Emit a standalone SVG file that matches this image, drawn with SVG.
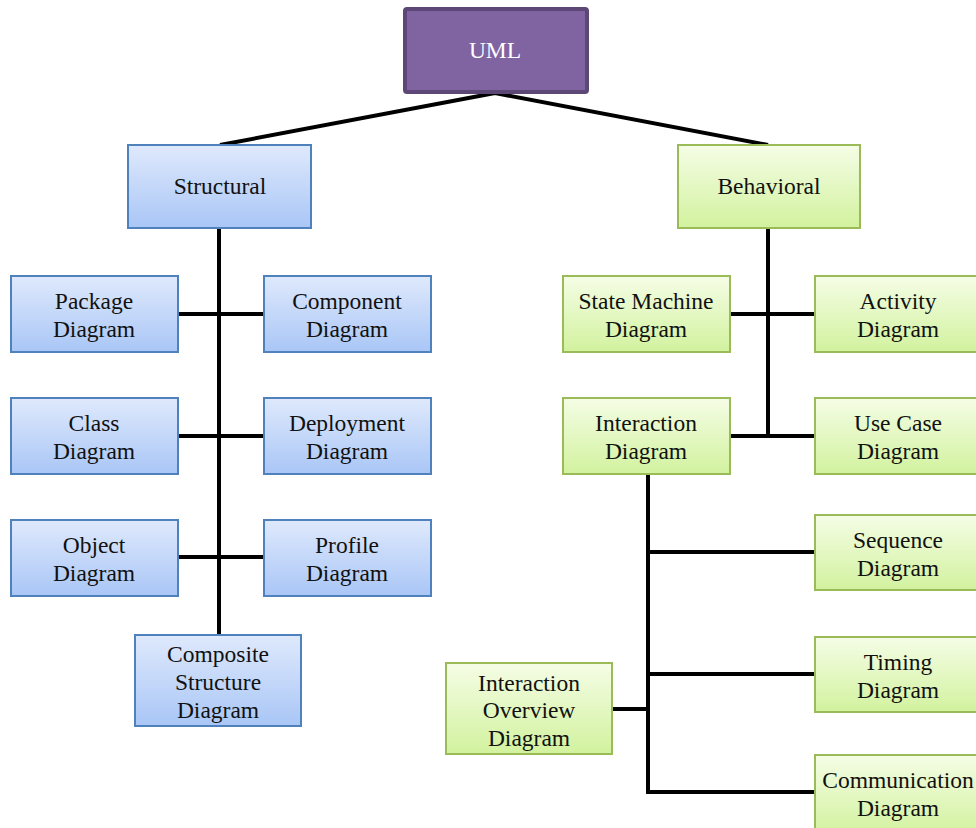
<svg xmlns="http://www.w3.org/2000/svg" width="976" height="828" viewBox="0 0 976 828">
<defs>
<linearGradient id="gb" x1="0" y1="0" x2="0" y2="1"><stop offset="0" stop-color="#dfe9fc"/><stop offset="1" stop-color="#a9c6f6"/></linearGradient>
<linearGradient id="gg" x1="0" y1="0" x2="0" y2="1"><stop offset="0" stop-color="#f5fde6"/><stop offset="1" stop-color="#d2f29e"/></linearGradient>
</defs>
<style>
.b{fill:url(#gb);stroke:#4f81bd;stroke-width:2}
.g{fill:url(#gg);stroke:#9bbb59;stroke-width:2}
.u{fill:#8064a2;stroke:#5c4776;stroke-width:4}
text{font-family:"Liberation Serif","Times New Roman",serif;font-size:23.5px;fill:#111;text-anchor:middle}
.w{fill:#fff}
.c{stroke:#000;stroke-width:4;fill:none}
</style>
<g id="connectors">
<path class="c" d="M495 93L220 145M495 93L768 145"/>
<path class="c" d="M219 228V635M178 314H264M178 436H264M178 557H264"/>
<path class="c" d="M768 228V436M730 314H815M730 436H815"/>
<path class="c" d="M648 474V792H815M648 552H815M648 674H815M612 709H648"/>
</g>
<g id="uml"><rect class="u" x="405" y="9" width="182" height="83" rx="2"/><text class="w" x="495" y="58">UML</text></g>
<g id="structural"><rect class="b" x="128" y="145" width="183" height="83"/><text x="220" y="194">Structural</text></g>
<g id="behavioral"><rect class="g" x="678" y="145" width="182" height="83"/><text x="769" y="194">Behavioral</text></g>
<g id="package"><rect class="b" x="11" y="276" width="167" height="76"/><text x="94" y="309">Package</text><text x="94" y="337">Diagram</text></g>
<g id="component"><rect class="b" x="264" y="276" width="167" height="76"/><text x="347" y="309">Component</text><text x="347" y="337">Diagram</text></g>
<g id="class"><rect class="b" x="11" y="398" width="167" height="76"/><text x="94" y="431">Class</text><text x="94" y="459">Diagram</text></g>
<g id="deployment"><rect class="b" x="264" y="398" width="167" height="76"/><text x="347" y="431">Deployment</text><text x="347" y="459">Diagram</text></g>
<g id="object"><rect class="b" x="11" y="520" width="167" height="76"/><text x="94" y="553">Object</text><text x="94" y="581">Diagram</text></g>
<g id="profile"><rect class="b" x="264" y="520" width="167" height="76"/><text x="347" y="553">Profile</text><text x="347" y="581">Diagram</text></g>
<g id="composite"><rect class="b" x="135" y="635" width="166" height="91"/><text x="218" y="662">Composite</text><text x="218" y="690">Structure</text><text x="218" y="718">Diagram</text></g>
<g id="statemachine"><rect class="g" x="563" y="276" width="167" height="76"/><text x="646" y="309">State Machine</text><text x="646" y="337">Diagram</text></g>
<g id="activity"><rect class="g" x="815" y="276" width="167" height="76"/><text x="898" y="309">Activity</text><text x="898" y="337">Diagram</text></g>
<g id="interaction"><rect class="g" x="563" y="398" width="167" height="76"/><text x="646" y="431">Interaction</text><text x="646" y="459">Diagram</text></g>
<g id="usecase"><rect class="g" x="815" y="398" width="167" height="76"/><text x="898" y="431">Use Case</text><text x="898" y="459">Diagram</text></g>
<g id="sequence"><rect class="g" x="815" y="515" width="167" height="75"/><text x="898" y="548">Sequence</text><text x="898" y="576">Diagram</text></g>
<g id="timing"><rect class="g" x="815" y="637" width="167" height="75"/><text x="898" y="670">Timing</text><text x="898" y="698">Diagram</text></g>
<g id="communication"><rect class="g" x="815" y="755" width="167" height="80"/><text x="898" y="788">Communication</text><text x="898" y="816">Diagram</text></g>
<g id="overview"><rect class="g" x="446" y="663" width="166" height="91"/><text x="529" y="691">Interaction</text><text x="529" y="718">Overview</text><text x="529" y="746">Diagram</text></g>
</svg>
